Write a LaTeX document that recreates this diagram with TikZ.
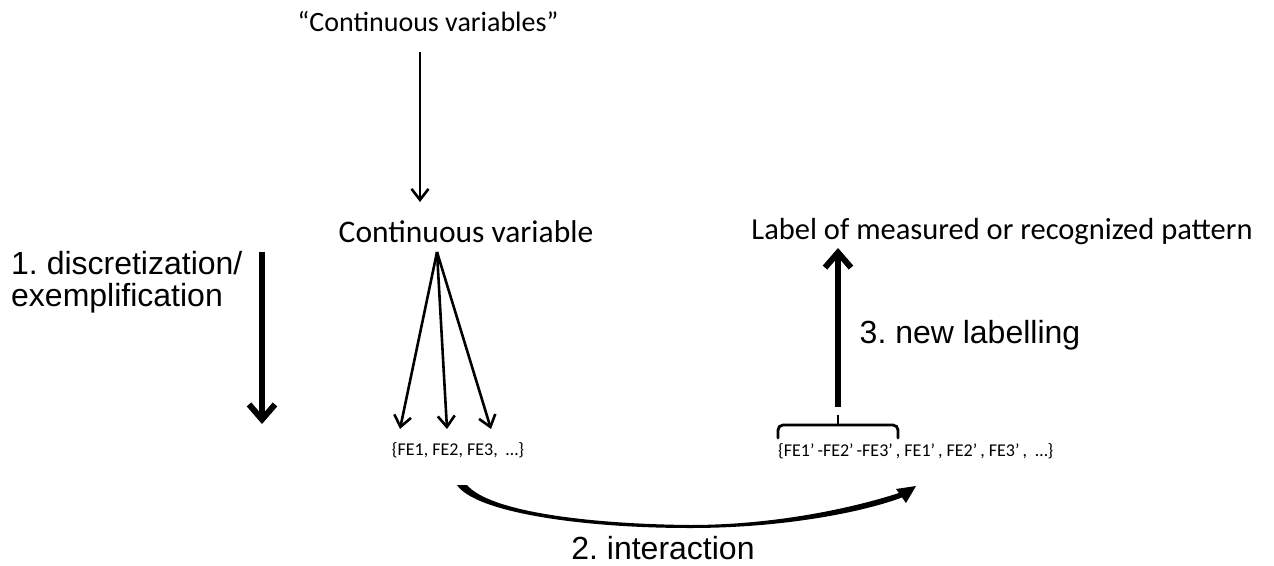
\documentclass[tikz,border=0pt]{standalone}
\usepackage{fontspec}
\setmainfont{Carlito}
\newfontfamily\arialf{Liberation Sans}
\usetikzlibrary{arrows.meta}
\begin{document}
\frenchspacing
\begin{tikzpicture}[x=1pt,y=-1pt,
  small/.style={inner sep=0pt,font=\fontsize{18}{21}\selectfont},
  ari/.style={inner sep=0pt,font=\arialf\fontsize{32}{32}\selectfont,align=left},
  thin arrow/.style={line width=2.6pt,-{Straight Barb[length=11pt,width=17pt,line width=2.6pt]}},
  thick arrow/.style={line width=6pt,-{Straight Barb[length=15pt,width=26pt,line width=6pt]}}]
\useasboundingbox (0,0) rectangle (1274,565);
\node[inner sep=0pt,font=\fontsize{28}{30}\selectfont] (top) at (428,22) {“Continuous variables”};
\node[inner sep=0pt,font=\fontsize{31.5}{34}\selectfont] (cv) at (466,232) {Continuous variable};
\node[inner sep=0pt,font=\fontsize{30.5}{34}\selectfont] (lab) at (1002,232) {Label of measured or recognized pattern};
\node[ari,anchor=north west] (disc) at (11,251) {1. discretization/\\[0pt]exemplification};
\node[small] (fe) at (458,450) {\{FE1, FE2, FE3,\ \ …\}};
\node[small,anchor=west] (fe2) at (778,451) {\{FE1’\,-FE2’\,-FE3’\,, FE1’\,, FE2’\,, FE3’\,,\ \ …\}};
\node[inner sep=0pt,font=\arialf\fontsize{32}{32}\selectfont] (nl) at (970,335) {3. new labelling};
\node[inner sep=0pt,font=\arialf\fontsize{32}{32}\selectfont] (int) at (663,548) {2. interaction};
% top arrow
\coordinate (t1) at (420,52);
\coordinate (t2) at (420,202);
\draw[thin arrow] (t1) -- (t2);
% fan arrows
\coordinate (apex) at (437,252);
\coordinate (f1) at (400,429);
\coordinate (f2) at (447,429);
\coordinate (f3) at (491,429);
\draw[thin arrow] (apex) -- (f1);
\draw[thin arrow] (apex) -- (f2);
\draw[thin arrow] (apex) -- (f3);
% left thick arrow
\coordinate (l1) at (262,252);
\coordinate (l2) at (262,424);
\draw[thick arrow] (l1) -- (l2);
% brace
\draw[line width=2.8pt,line cap=round,rounded corners=5pt] (778,438) -- (778,425) -- (898,425) -- (898,438);
\draw[line width=2.8pt] (838,425) -- (838,415);
% up arrow
\coordinate (u1) at (838,407);
\coordinate (u2) at (838,248);
\draw[thick arrow] (u1) -- (u2);
% interaction arrow (tapered)
\fill (457,485) .. controls (475,512) and (580,528) .. (690,528)
      .. controls (790,528) and (870,510) .. (903,497)
      -- (902,492) .. controls (860,506) and (780,525) .. (690,525)
      .. controls (590,524) and (490,512) .. (467,485) -- cycle;
\fill (916,486) -- (896,489) -- (906,503) -- cycle;
\end{tikzpicture}
\end{document}
